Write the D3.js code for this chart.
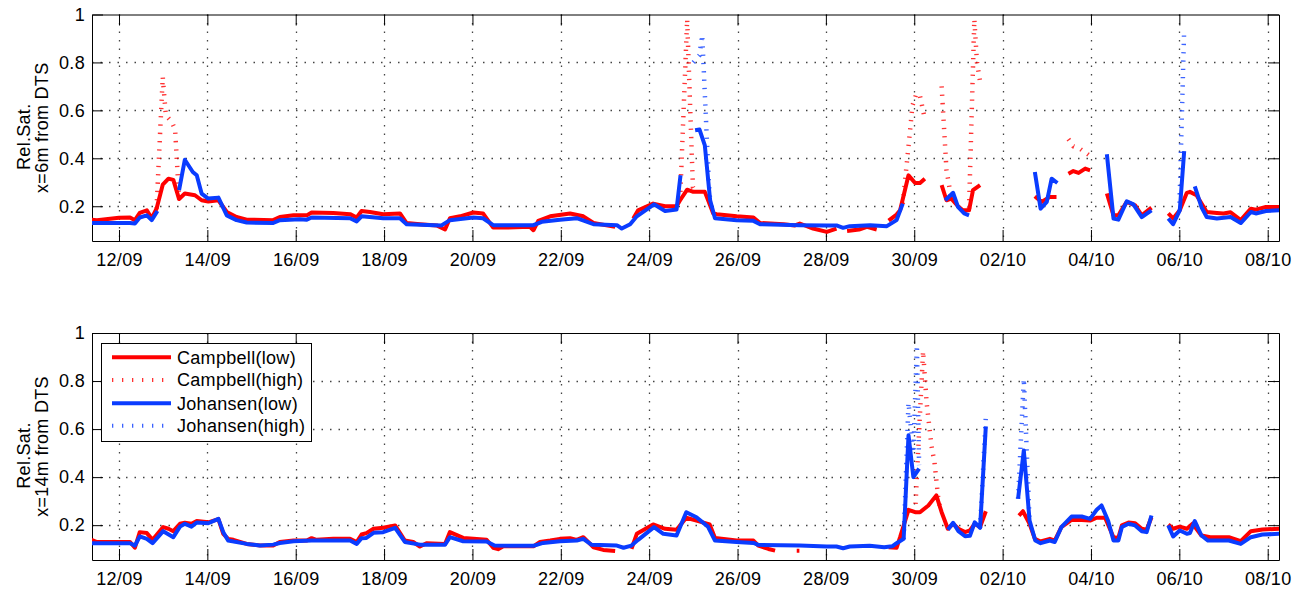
<!DOCTYPE html>
<html>
<head>
<meta charset="utf-8">
<script src="https://cdn.jsdelivr.net/npm/d3@7"></script>
<style>
  body { margin: 0; background: #fff; }
  text { font-family: "Liberation Sans", Arial, Helvetica, sans-serif; }
</style>
</head>
<body>
<div id="chart"></div>
<script>
var width = 1299;
var height = 591;

// x tick labels (dd/mm, 2013) and y ticks
var tickLabels = ['12/09', '14/09', '16/09', '18/09', '20/09', '22/09', '24/09',
                  '26/09', '28/09', '30/09', '02/10', '04/10', '06/10', '08/10'];
var yTicks = [0.2, 0.4, 0.6, 0.8, 1];
var seriesNames = ['Campbell(low)', 'Campbell(high)', 'Johansen(low)', 'Johansen(high)'];
var panelLabels = ['x=6m from DTS', 'x=14m from DTS'];

// [days since 12/09 00:00, rel. saturation]; null = gap in the record
var campbellLow6 = [[-0.62,0.144],[-0.5,0.142],[0.0,0.152],[0.25,0.153],[0.36,0.142],[0.47,0.172],[0.63,0.183],[0.74,0.15],[0.85,0.19],[0.99,0.29],[1.12,0.315],[1.23,0.31],[1.36,0.23],[1.49,0.253],[1.72,0.246],[1.87,0.225],[2.02,0.22],[2.25,0.225],[2.44,0.176],[2.66,0.155],[2.89,0.144],[3.49,0.142],[3.64,0.155],[3.95,0.162],[4.25,0.162],[4.36,0.174],[4.85,0.172],[5.23,0.167],[5.38,0.153],[5.49,0.18],[5.68,0.176],[5.98,0.167],[6.36,0.17],[6.51,0.13],[6.81,0.125],[7.19,0.12],[7.38,0.103],[7.49,0.15],[7.72,0.158],[8.02,0.174],[8.24,0.17],[8.47,0.111],[8.8,0.111],[9.3,0.114],[9.38,0.10],[9.49,0.139],[9.76,0.158],[10.21,0.17],[10.51,0.158],[10.74,0.13],[11.23,0.114],[11.3,null],[11.64,0.149],[11.75,0.183],[12.09,0.211],[12.36,0.2],[12.62,0.2],[12.7,0.225],[12.86,0.269],[13.0,0.26],[13.26,0.26],[13.45,0.17],[13.53,0.167],[13.98,0.158],[14.36,0.153],[14.51,0.13],[15.04,0.125],[15.3,0.12],[15.41,0.128],[15.71,0.107],[16.02,0.093],[16.24,0.107],[16.36,null],[16.48,0.097],[16.75,0.103],[16.93,0.114],[17.15,0.103],[17.3,null],[17.42,0.14],[17.6,0.165],[17.68,0.183],[17.87,0.329],[18.02,0.297],[18.13,0.297],[18.24,0.315],[18.4,null],[18.62,0.288],[18.73,0.225],[18.84,0.232],[18.99,0.2],[19.1,0.183],[19.24,0.183],[19.33,0.267],[19.49,0.288],[20.0,null],[20.73,0.242],[20.88,0.218],[21.07,0.239],[21.22,0.239],[21.35,null],[21.49,0.336],[21.6,0.347],[21.72,0.339],[21.87,0.357],[21.98,0.35],[22.2,null],[22.36,0.253],[22.51,0.162],[22.62,0.162],[22.81,0.218],[23.0,0.204],[23.15,0.162],[23.37,0.194],[23.5,null],[23.75,0.17],[23.86,0.149],[24.01,0.183],[24.17,0.256],[24.24,0.26],[24.39,0.246],[24.62,0.176],[24.85,0.172],[25.0,0.17],[25.16,0.175],[25.39,0.142],[25.62,0.19],[25.73,0.186],[25.96,0.197],[26.26,0.197]];
var campbellHigh6 = [[0.85,0.19],[0.99,0.74],[1.06,0.58],[1.2,0.55],[1.27,0.52],[1.36,0.23],[1.4,null],[12.7,0.225],[12.86,0.98],[12.99,0.28],[13.05,0.26],[13.1,null],[17.74,0.21],[17.87,0.45],[17.96,0.62],[18.05,0.67],[18.13,0.66],[18.2,0.6],[18.24,0.56],[18.4,null],[18.62,0.7],[18.73,0.35],[18.84,0.232],[18.9,null],[19.24,0.19],[19.36,0.98],[19.42,0.8],[19.49,0.72],[19.6,null],[21.49,0.48],[21.6,0.45],[21.75,0.44],[21.98,0.41]];
var johansenLow6 = [[-0.62,0.13],[0.25,0.13],[0.36,0.128],[0.47,0.153],[0.63,0.162],[0.74,0.142],[0.87,0.18],[0.95,null],[1.36,0.267],[1.49,0.394],[1.67,0.343],[1.76,0.329],[1.87,0.253],[2.02,0.232],[2.25,0.236],[2.44,0.162],[2.66,0.142],[2.89,0.132],[3.49,0.13],[3.64,0.142],[4.09,0.146],[4.25,0.144],[4.36,0.153],[5.23,0.15],[5.38,0.137],[5.49,0.158],[5.98,0.15],[6.36,0.15],[6.51,0.125],[7.3,0.12],[7.49,0.142],[8.02,0.153],[8.24,0.15],[8.47,0.121],[9.38,0.121],[9.57,0.135],[9.98,0.144],[10.36,0.15],[10.74,0.125],[11.27,0.121],[11.38,0.107],[11.57,0.125],[11.72,0.158],[12.11,0.208],[12.36,0.18],[12.62,0.186],[12.71,0.329],[12.8,null],[13.04,0.517],[13.14,0.52],[13.26,0.454],[13.38,0.225],[13.49,0.15],[13.98,0.142],[14.36,0.139],[14.51,0.125],[15.41,0.121],[16.02,0.12],[16.24,0.12],[16.39,0.11],[16.54,0.117],[17.0,0.121],[17.38,0.117],[17.6,0.142],[17.74,0.211],[17.9,null],[18.7,0.225],[18.88,0.256],[18.99,0.197],[19.13,0.17],[19.24,0.162],[19.4,null],[20.73,0.343],[20.86,0.19],[21.0,0.218],[21.11,0.315],[21.24,0.297],[21.4,null],[22.36,0.417],[22.51,0.149],[22.62,0.144],[22.81,0.221],[22.96,0.208],[23.15,0.155],[23.37,0.183],[23.5,null],[23.75,0.149],[23.86,0.125],[24.01,0.183],[24.11,0.43],[24.2,null],[24.35,0.283],[24.5,0.197],[24.62,0.155],[24.85,0.149],[25.16,0.155],[25.39,0.13],[25.62,0.176],[25.73,0.17],[25.96,0.18],[26.26,0.183]];
var johansenHigh6 = [[13.0,0.80],[13.14,0.83],[13.2,0.915],[13.35,0.3],[13.38,0.225],[13.45,null],[24.0,0.18],[24.11,0.94]];

var campbellLow14 = [[-0.62,0.139],[-0.5,0.13],[0.25,0.13],[0.36,0.106],[0.47,0.171],[0.63,0.167],[0.76,0.139],[1.0,0.192],[1.12,0.185],[1.23,0.175],[1.38,0.206],[1.49,0.21],[1.64,0.206],[1.76,0.217],[2.02,0.212],[2.25,0.225],[2.36,0.164],[2.47,0.143],[2.59,0.139],[2.89,0.122],[3.19,0.115],[3.49,0.115],[3.64,0.13],[3.95,0.136],[4.25,0.136],[4.36,0.146],[4.47,0.139],[4.85,0.143],[5.23,0.143],[5.38,0.13],[5.49,0.161],[5.6,0.167],[5.76,0.185],[5.98,0.189],[6.25,0.199],[6.47,0.136],[6.66,0.13],[6.81,0.111],[6.96,0.125],[7.38,0.122],[7.49,0.171],[7.79,0.147],[8.02,0.143],[8.32,0.139],[8.47,0.106],[8.58,0.1],[8.7,0.112],[9.38,0.112],[9.53,0.13],[9.76,0.136],[9.98,0.143],[10.21,0.146],[10.36,0.139],[10.51,0.15],[10.74,0.108],[10.96,0.097],[11.23,0.092],[11.3,null],[11.6,0.101],[11.72,0.164],[12.09,0.203],[12.36,0.185],[12.62,0.181],[12.84,0.231],[13.07,0.219],[13.37,0.203],[13.49,0.147],[13.98,0.136],[14.36,0.136],[14.47,0.115],[14.7,0.101],[14.85,0.094],[14.9,null],[15.34,0.094],[15.4,0.094],[15.45,null],[17.42,0.108],[17.6,0.106],[17.68,0.15],[17.87,0.264],[18.02,0.254],[18.13,0.254],[18.32,0.282],[18.5,0.324],[18.62,0.254],[18.76,0.185],[18.88,0.206],[19.0,0.185],[19.15,0.171],[19.26,0.178],[19.37,0.206],[19.49,0.192],[19.62,0.258],[19.8,null],[20.37,0.24],[20.46,0.258],[20.61,0.206],[20.73,0.143],[20.86,0.132],[21.07,0.143],[21.18,0.136],[21.33,0.192],[21.56,0.222],[21.79,0.222],[21.98,0.219],[22.13,0.231],[22.32,0.231],[22.51,0.15],[22.62,0.147],[22.7,0.199],[22.85,0.211],[23.0,0.208],[23.15,0.185],[23.26,0.181],[23.37,0.233],[23.5,null],[23.75,0.203],[23.86,0.185],[24.01,0.194],[24.17,0.185],[24.3,0.206],[24.5,0.157],[24.7,0.15],[25.12,0.15],[25.39,0.133],[25.62,0.175],[25.88,0.182],[26.26,0.185]];
var campbellHigh14 = [[18.02,0.254],[18.2,0.925],[18.28,0.71],[18.39,0.53],[18.46,0.46],[18.55,0.3],[18.62,0.254]];
var johansenLow14 = [[-0.62,0.125],[0.25,0.125],[0.36,0.115],[0.47,0.153],[0.63,0.143],[0.76,0.125],[1.0,0.175],[1.23,0.15],[1.38,0.194],[1.49,0.206],[1.64,0.194],[1.76,0.211],[2.02,0.208],[2.25,0.226],[2.36,0.171],[2.47,0.136],[2.89,0.122],[3.19,0.115],[3.49,0.119],[3.64,0.126],[3.95,0.133],[4.36,0.136],[5.23,0.136],[5.38,0.122],[5.49,0.146],[5.6,0.147],[5.76,0.168],[5.98,0.171],[6.25,0.189],[6.47,0.13],[6.81,0.119],[7.38,0.119],[7.49,0.15],[7.79,0.133],[8.32,0.132],[8.5,0.115],[9.38,0.114],[9.6,0.126],[9.98,0.133],[10.36,0.136],[10.51,0.143],[10.7,0.118],[11.27,0.115],[11.42,0.106],[11.6,0.115],[11.75,0.139],[12.11,0.192],[12.32,0.164],[12.62,0.157],[12.84,0.254],[13.07,0.233],[13.33,0.194],[13.49,0.136],[13.98,0.13],[14.36,0.126],[14.47,0.118],[15.41,0.115],[16.02,0.111],[16.24,0.111],[16.39,0.104],[16.54,0.111],[16.99,0.114],[17.32,0.108],[17.5,0.112],[17.6,0.125],[17.76,0.143],[17.87,0.574],[17.98,0.4],[18.11,0.435],[18.2,null],[18.76,0.181],[18.88,0.21],[19.0,0.175],[19.15,0.154],[19.26,0.156],[19.37,0.212],[19.49,0.189],[19.62,0.611],[19.8,null],[20.35,0.31],[20.48,0.511],[20.61,0.219],[20.74,0.136],[20.86,0.125],[21.07,0.136],[21.18,0.13],[21.33,0.192],[21.56,0.236],[21.79,0.236],[21.98,0.226],[22.13,0.264],[22.24,0.282],[22.39,0.217],[22.51,0.136],[22.62,0.136],[22.7,0.192],[22.85,0.206],[23.0,0.199],[23.15,0.175],[23.26,0.171],[23.37,0.24],[23.5,null],[23.75,0.199],[23.86,0.153],[24.01,0.178],[24.17,0.164],[24.24,0.167],[24.35,0.217],[24.5,0.157],[24.65,0.136],[25.12,0.136],[25.39,0.122],[25.62,0.15],[25.88,0.161],[26.26,0.164]];
var johansenHigh14 = [[17.76,0.143],[17.87,0.71],[17.98,0.5],[18.06,0.95],[18.11,0.45],[18.2,null],[19.49,0.189],[19.62,0.65],[19.7,null],[20.35,0.31],[20.48,0.81],[20.61,0.219]];

var red = '#ff0000';
var blue = '#0a3cff';
var styles = [
  {color: red, width: 4, dash: null, opacity: 1},
  {color: red, width: 4.5, dash: '1.3,7', opacity: 0.8},
  {color: blue, width: 4, dash: null, opacity: 1},
  {color: blue, width: 4.5, dash: '1.3,7', opacity: 0.8}
];

var t0 = new Date(2013, 8, 12);
var toDate = function(t){ return new Date(t0.getTime() + t * 864e5); };
var parseTick = d3.timeParse('%d/%m/%Y');
var tickDates = tickLabels.map(function(s){ return parseTick(s + '/2013'); });

var left = 92, right = 1279;
var panels = [
  {top: 14.5, bottom: 241, label: panelLabels[0], data: [campbellLow6, campbellHigh6, johansenLow6, johansenHigh6]},
  {top: 333, bottom: 560, label: panelLabels[1], data: [campbellLow14, campbellHigh14, johansenLow14, johansenHigh14]}
];

var svg = d3.select('#chart').append('svg')
            .attr('width', width).attr('height', height);

var x = d3.scaleTime().domain([toDate(-0.611), toDate(26.256)]).range([left, right]);

var fontSize = '18px';

panels.forEach(function(p, pi){
  var y = d3.scaleLinear().domain([0.055, 1]).range([p.bottom, p.top]);
  var g = svg.append('g');

  // grid
  g.append('g').selectAll('line').data(tickDates).enter().append('line')
      .attr('x1', function(d){ return Math.round(x(d)) + 0.5; })
      .attr('x2', function(d){ return Math.round(x(d)) + 0.5; })
      .attr('y1', p.top).attr('y2', p.bottom)
      .attr('stroke', '#444').attr('stroke-width', 1.3).attr('stroke-dasharray', '1.5,7');
  g.append('g').selectAll('line').data(yTicks.filter(function(d){ return d < 1; })).enter().append('line')
      .attr('x1', left).attr('x2', right)
      .attr('y1', function(d){ return Math.round(y(d)) + 0.5; })
      .attr('y2', function(d){ return Math.round(y(d)) + 0.5; })
      .attr('stroke', '#444').attr('stroke-width', 1.3).attr('stroke-dasharray', '1.5,7');

  // axes with inward ticks
  var axes = [
    {gen: d3.axisBottom(x).tickValues(tickDates).tickFormat(function(d, i){ return tickLabels[i]; }).tickPadding(12), tr: [0, p.bottom]},
    {gen: d3.axisTop(x).tickValues(tickDates).tickFormat(''), tr: [0, p.top]},
    {gen: d3.axisLeft(y).tickValues(yTicks).tickFormat(function(d){ return d === 1 ? '1' : d3.format('.1f')(d); }).tickPadding(7), tr: [left, 0]},
    {gen: d3.axisRight(y).tickValues(yTicks).tickFormat(''), tr: [right, 0]}
  ];
  axes.forEach(function(a){
    var ag = g.append('g').attr('transform', 'translate(' + a.tr[0] + ',' + a.tr[1] + ')')
        .call(a.gen.tickSizeInner(-11).tickSizeOuter(0));
    ag.attr('font-family', null).attr('font-size', null);
    ag.selectAll('line, path').attr('stroke', '#000').attr('stroke-width', 1);
    ag.selectAll('text').attr('fill', '#000').style('font-size', fontSize).style('letter-spacing', '0.3px');
  });

  // y label (two lines)
  var mid = (p.top + p.bottom) / 2;
  g.append('text')
      .attr('transform', 'translate(30,' + (mid + 9) + ') rotate(-90)')
      .attr('text-anchor', 'middle').style('font-size', fontSize).style('letter-spacing', '0.3px')
      .text('Rel.Sat.');
  g.append('text')
      .attr('transform', 'translate(48,' + mid + ') rotate(-90)')
      .attr('text-anchor', 'middle').style('font-size', fontSize).style('letter-spacing', '0.3px')
      .text(p.label);

  // data
  svg.append('clipPath').attr('id', 'clip' + pi).append('rect')
      .attr('x', left).attr('y', p.top).attr('width', right - left).attr('height', p.bottom - p.top);
  var line = d3.line()
      .defined(function(d){ return d[1] !== null; })
      .x(function(d){ return x(toDate(d[0])); })
      .y(function(d){ return y(d[1]); });
  var lines = g.append('g').attr('clip-path', 'url(#clip' + pi + ')');
  p.data.forEach(function(series, si){
    var s = styles[si];
    lines.append('path').datum(series)
        .attr('d', line)
        .attr('fill', 'none')
        .attr('stroke', s.color)
        .attr('stroke-width', s.width)
        .attr('stroke-dasharray', s.dash)
        .attr('stroke-opacity', s.opacity)
        .attr('stroke-linejoin', 'round');
  });
});

// legend in the lower panel
var legend = svg.append('g');
legend.append('rect')
    .attr('x', 101.5).attr('y', 343.5).attr('width', 210).attr('height', 98)
    .attr('fill', '#fff').attr('stroke', '#000').attr('stroke-width', 1);
var legendY = [357.3, 380, 403.3, 425.7];
seriesNames.forEach(function(name, i){
  var s = styles[i];
  legend.append('line')
      .attr('x1', 112).attr('x2', 171).attr('y1', legendY[i]).attr('y2', legendY[i])
      .attr('stroke', s.color).attr('stroke-width', 4)
      .attr('stroke-dasharray', s.dash ? '1.3,8.7' : null)
      .attr('stroke-opacity', s.opacity);
  legend.append('text')
      .attr('x', 177).attr('y', legendY[i]).attr('dy', '0.35em')
      .style('font-size', fontSize).style('letter-spacing', '0.3px')
      .text(name);
});
</script>
</body>
</html>
